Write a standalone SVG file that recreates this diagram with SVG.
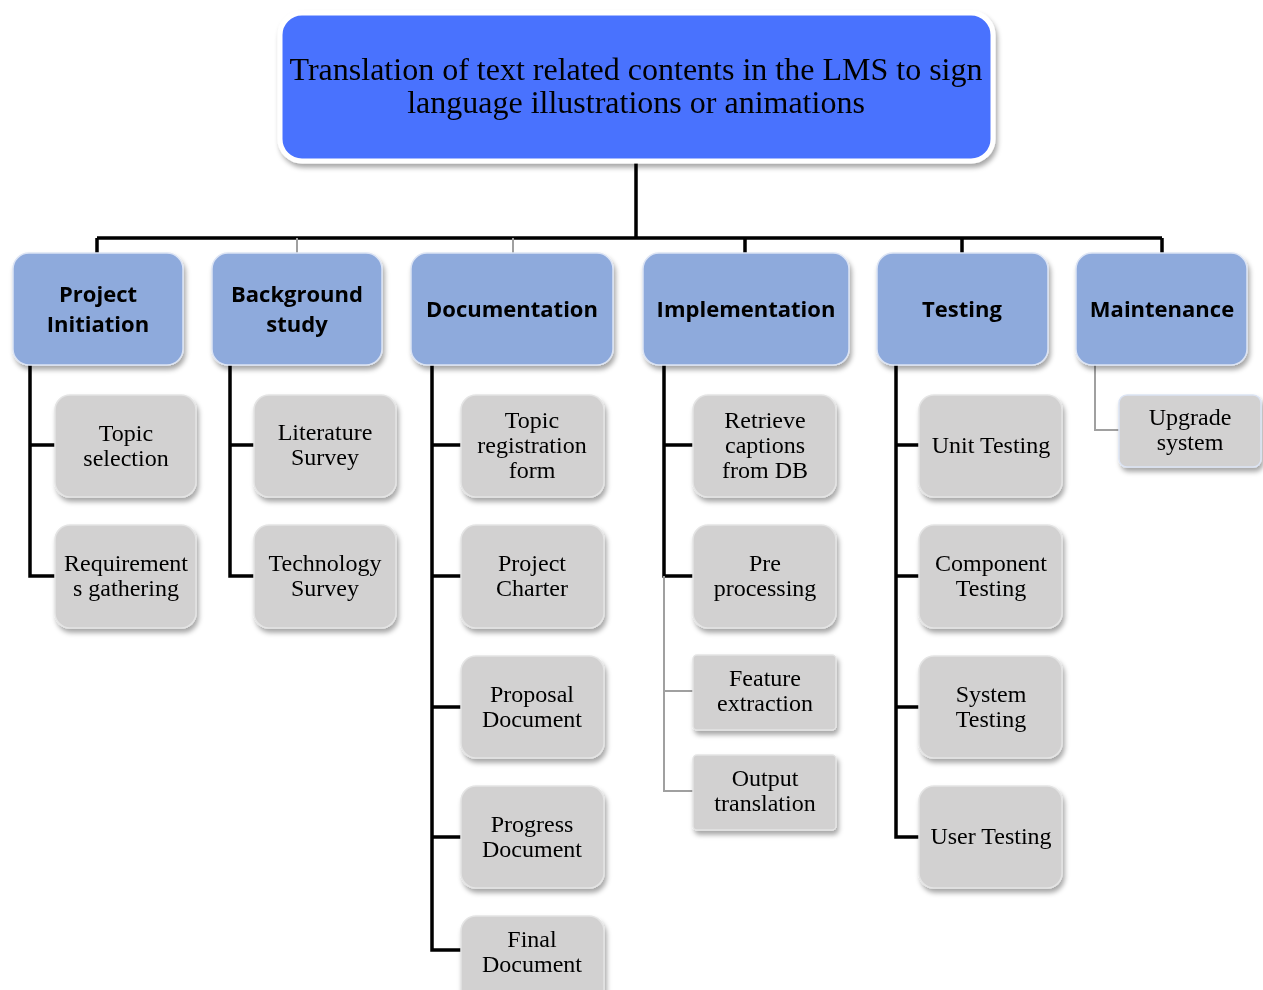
<svg xmlns="http://www.w3.org/2000/svg" width="1263" height="990" viewBox="0 0 1263 990">
<defs>
<filter id="sh" x="-10%" y="-10%" width="125%" height="130%">
<feDropShadow dx="2" dy="4" stdDeviation="2.5" flood-color="#000" flood-opacity="0.35"/>
</filter>
</defs>
<style>
.root{fill:#4A72FE;stroke:#fff;stroke-width:5}
.l1{fill:#8EAADC;stroke:#DCE4F4;stroke-width:1.5}
.l2{fill:#D2D1D1;stroke:#E4E4E4;stroke-width:1.5}
.rt{font-family:"Liberation Serif",serif;font-size:32px;fill:#000;text-anchor:middle}
.t1{font-family:"Open Sans","Noto Sans",sans-serif;font-weight:bold;font-size:22px;fill:#000;text-anchor:middle}
.t2{font-family:"Liberation Serif",serif;font-size:24px;fill:#000;text-anchor:middle}
.bk{stroke:#000;stroke-width:3.5;fill:none}
.gy{stroke:#A0A0A0;stroke-width:2;fill:none}
</style>
<rect width="1263" height="990" fill="#fff"/>
<g id="connectors">
<path class="bk" d="M636 162V238M97 238H1162M97 238V253M745 238V253M962 238V253M1162 238V253"/>
<path class="gy" d="M297 238V253M513 238V253"/>
<path class="bk" d="M30 365V576H55M30 445H55"/>
<path class="bk" d="M230 365V576H254M230 445H254"/>
<path class="bk" d="M432 365V950H461M432 445H461M432 576H461M432 707H461M432 837H461"/>
<path class="bk" d="M664 365V576H693M664 445H693"/>
<path class="gy" d="M664 576V791H693M664 691H693"/>
<path class="bk" d="M896 365V837H919M896 445H919M896 576H919M896 707H919"/>
<path class="gy" d="M1095 365V430H1119"/>
</g>
<g id="root" filter="url(#sh)">
<rect class="root" x="280" y="13" width="713" height="148" rx="22"/>
<text class="rt" x="636" y="80">Translation of text related contents in the LMS to sign</text>
<text class="rt" x="636" y="113">language illustrations or animations</text>
</g>
<g id="n-project-initiation" filter="url(#sh)">
<rect class="l1" x="13" y="253" width="170" height="112" rx="16"/>
<text class="t1" x="98" y="302">Project</text>
<text class="t1" x="98" y="332">Initiation</text>
</g>
<g id="n-background-study" filter="url(#sh)">
<rect class="l1" x="212" y="253" width="170" height="112" rx="16"/>
<text class="t1" x="297" y="302">Background</text>
<text class="t1" x="297" y="332">study</text>
</g>
<g id="n-documentation" filter="url(#sh)">
<rect class="l1" x="411" y="253" width="202" height="112" rx="16"/>
<text class="t1" x="512" y="317">Documentation</text>
</g>
<g id="n-implementation" filter="url(#sh)">
<rect class="l1" x="643" y="253" width="206" height="112" rx="16"/>
<text class="t1" x="746" y="317">Implementation</text>
</g>
<g id="n-testing" filter="url(#sh)">
<rect class="l1" x="877" y="253" width="171" height="112" rx="16"/>
<text class="t1" x="962" y="317">Testing</text>
</g>
<g id="n-maintenance" filter="url(#sh)">
<rect class="l1" x="1076" y="253" width="171" height="112" rx="16"/>
<text class="t1" x="1162" y="317">Maintenance</text>
</g>
<g id="n-topic-selection" filter="url(#sh)">
<rect class="l2" x="55" y="395" width="141" height="102" rx="15"/>
<text class="t2" x="126" y="441">Topic</text>
<text class="t2" x="126" y="466">selection</text>
</g>
<g id="n-requirements" filter="url(#sh)">
<rect class="l2" x="55" y="525" width="141" height="103" rx="15"/>
<text class="t2" x="126" y="571">Requirement</text>
<text class="t2" x="126" y="596">s gathering</text>
</g>
<g id="n-literature" filter="url(#sh)">
<rect class="l2" x="254" y="395" width="142" height="102" rx="15"/>
<text class="t2" x="325" y="440">Literature</text>
<text class="t2" x="325" y="465">Survey</text>
</g>
<g id="n-technology" filter="url(#sh)">
<rect class="l2" x="254" y="525" width="142" height="103" rx="15"/>
<text class="t2" x="325" y="571">Technology</text>
<text class="t2" x="325" y="596">Survey</text>
</g>
<g id="n-topic-reg" filter="url(#sh)">
<rect class="l2" x="461" y="395" width="143" height="102" rx="15"/>
<text class="t2" x="532" y="428">Topic</text>
<text class="t2" x="532" y="453">registration</text>
<text class="t2" x="532" y="478">form</text>
</g>
<g id="n-charter" filter="url(#sh)">
<rect class="l2" x="461" y="525" width="143" height="103" rx="15"/>
<text class="t2" x="532" y="571">Project</text>
<text class="t2" x="532" y="596">Charter</text>
</g>
<g id="n-proposal" filter="url(#sh)">
<rect class="l2" x="461" y="656" width="143" height="102" rx="15"/>
<text class="t2" x="532" y="702">Proposal</text>
<text class="t2" x="532" y="727">Document</text>
</g>
<g id="n-progress" filter="url(#sh)">
<rect class="l2" x="461" y="786" width="143" height="102" rx="15"/>
<text class="t2" x="532" y="832">Progress</text>
<text class="t2" x="532" y="857">Document</text>
</g>
<g id="n-final" filter="url(#sh)">
<rect class="l2" x="461" y="916" width="143" height="90" rx="15"/>
<text class="t2" x="532" y="947">Final</text>
<text class="t2" x="532" y="972">Document</text>
</g>
<g id="n-retrieve" filter="url(#sh)">
<rect class="l2" x="693" y="395" width="143" height="102" rx="15"/>
<text class="t2" x="765" y="428">Retrieve</text>
<text class="t2" x="765" y="453">captions</text>
<text class="t2" x="765" y="478">from DB</text>
</g>
<g id="n-preprocessing" filter="url(#sh)">
<rect class="l2" x="693" y="525" width="143" height="103" rx="15"/>
<text class="t2" x="765" y="571">Pre</text>
<text class="t2" x="765" y="596">processing</text>
</g>
<g id="n-feature" filter="url(#sh)">
<rect class="l2" x="693" y="655" width="143" height="75" rx="4"/>
<text class="t2" x="765" y="686">Feature</text>
<text class="t2" x="765" y="711">extraction</text>
</g>
<g id="n-output" filter="url(#sh)">
<rect class="l2" x="693" y="755" width="143" height="75" rx="4"/>
<text class="t2" x="765" y="786">Output</text>
<text class="t2" x="765" y="811">translation</text>
</g>
<g id="n-unit" filter="url(#sh)">
<rect class="l2" x="919" y="395" width="143" height="102" rx="15"/>
<text class="t2" x="991" y="453">Unit Testing</text>
</g>
<g id="n-component" filter="url(#sh)">
<rect class="l2" x="919" y="525" width="143" height="103" rx="15"/>
<text class="t2" x="991" y="571">Component</text>
<text class="t2" x="991" y="596">Testing</text>
</g>
<g id="n-system" filter="url(#sh)">
<rect class="l2" x="919" y="656" width="143" height="102" rx="15"/>
<text class="t2" x="991" y="702">System</text>
<text class="t2" x="991" y="727">Testing</text>
</g>
<g id="n-user" filter="url(#sh)">
<rect class="l2" x="919" y="786" width="143" height="102" rx="15"/>
<text class="t2" x="991" y="844">User Testing</text>
</g>
<g id="n-upgrade" filter="url(#sh)">
<rect class="l2" x="1119" y="395" width="142" height="72" rx="8" style="stroke:#DCE4F4"/>
<text class="t2" x="1190" y="425">Upgrade</text>
<text class="t2" x="1190" y="450">system</text>
</g>
</svg>
